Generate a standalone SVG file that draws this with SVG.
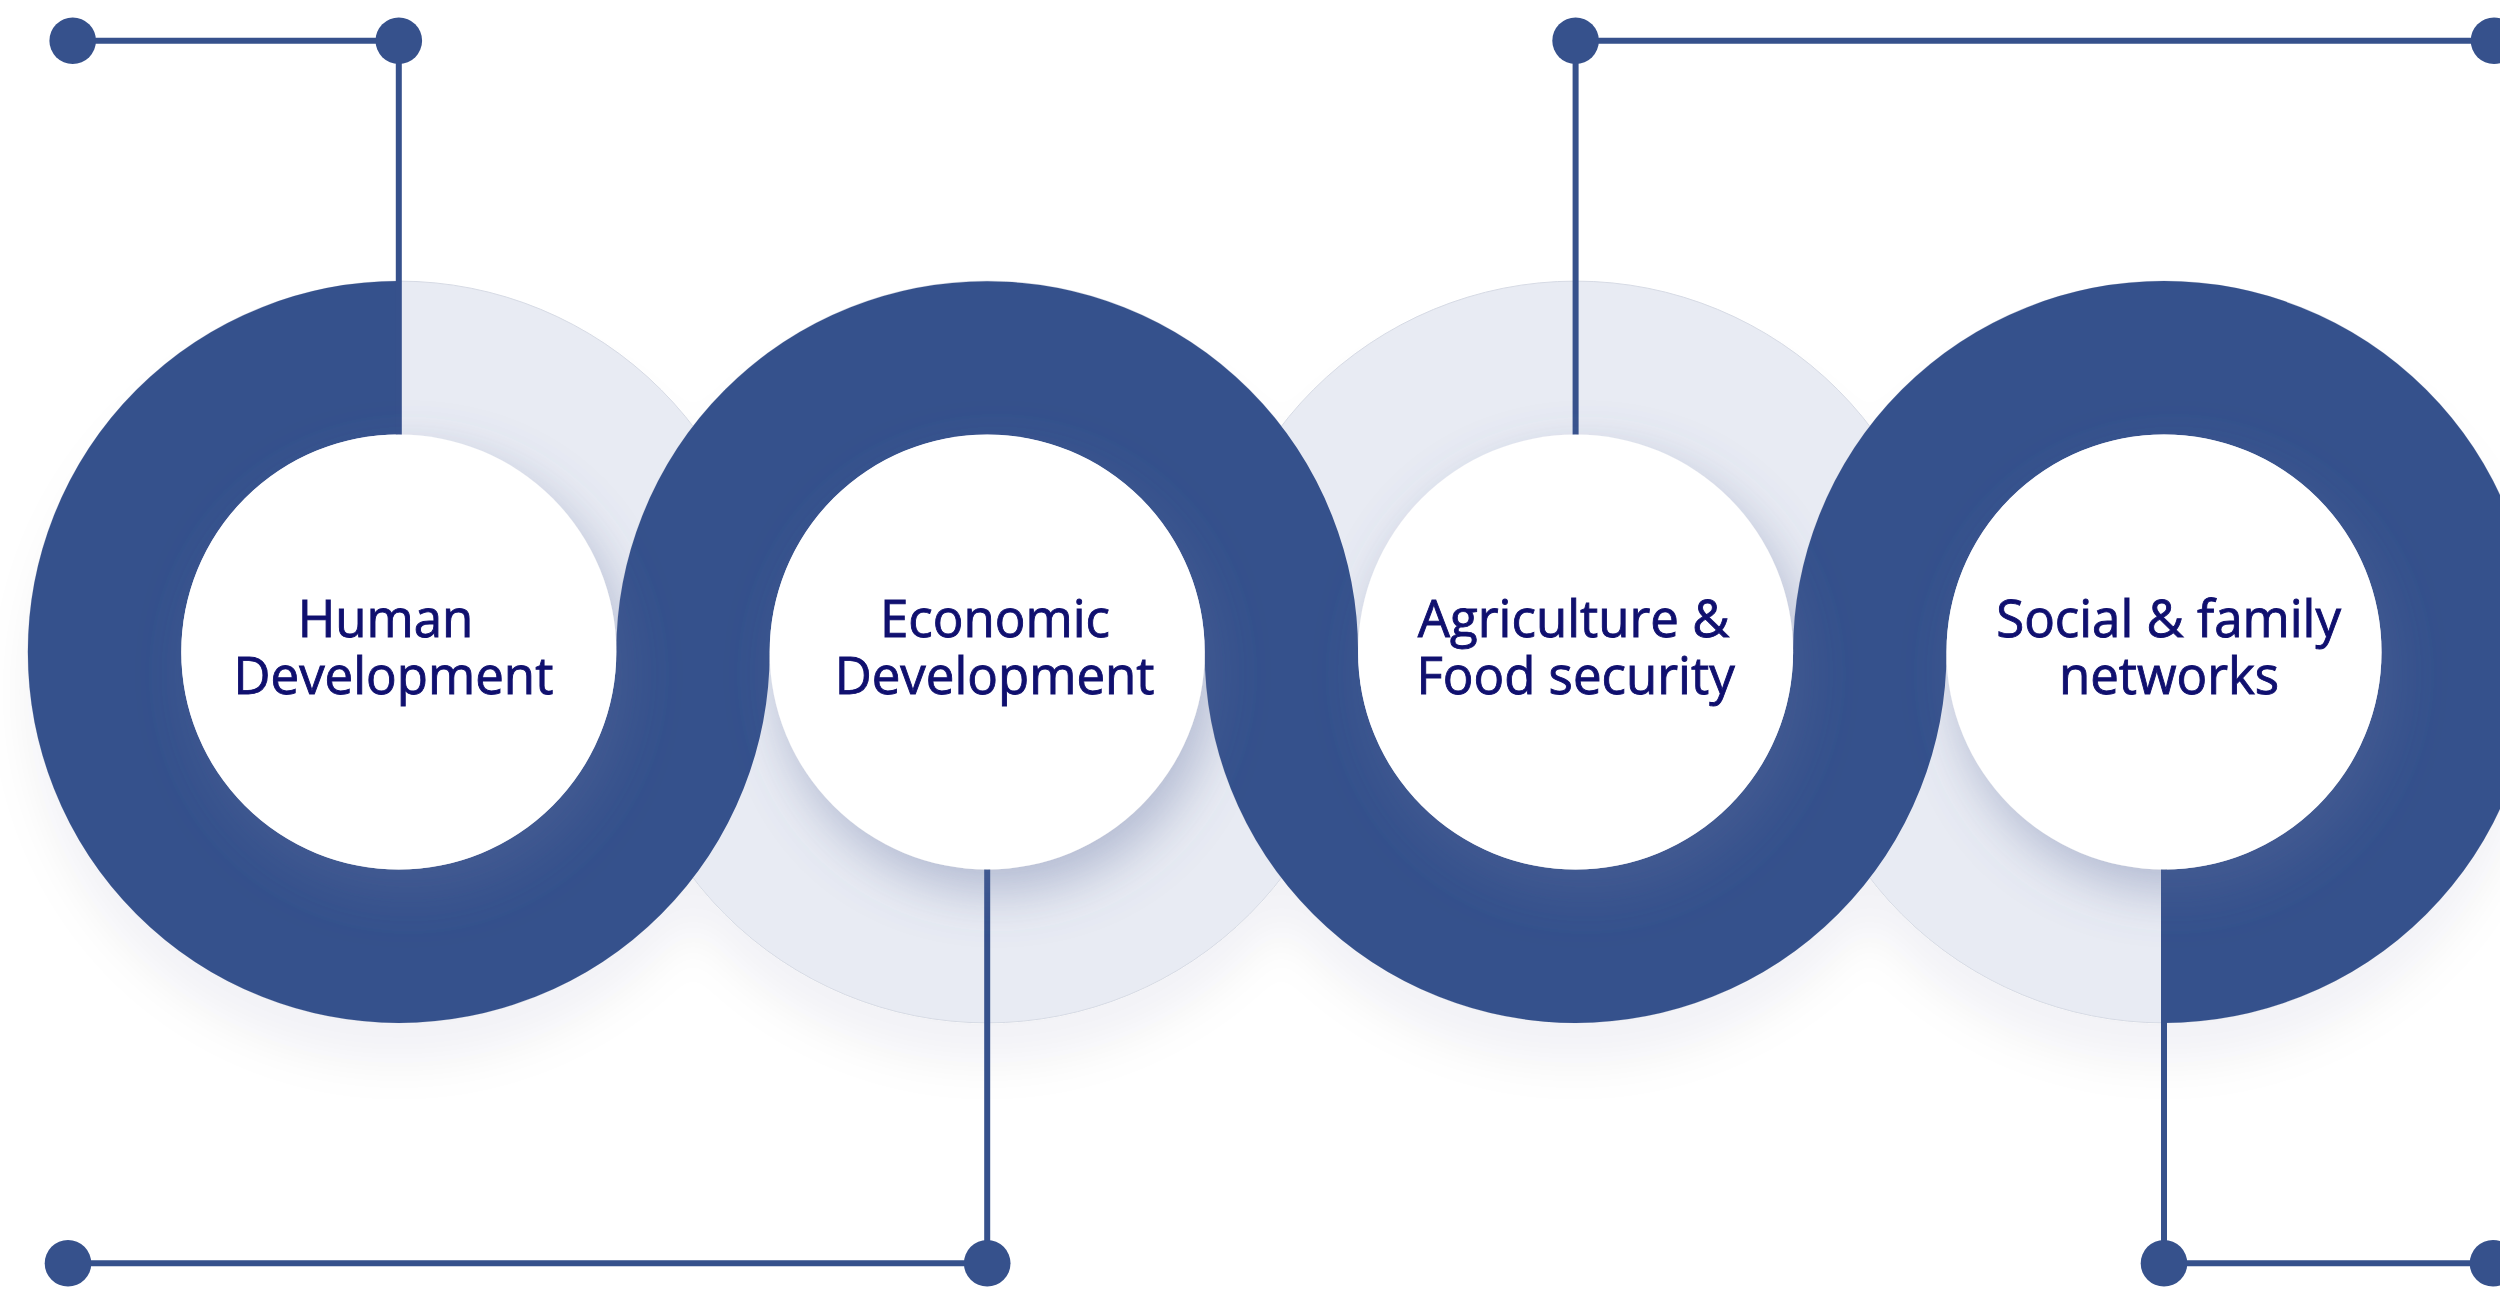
<svg xmlns="http://www.w3.org/2000/svg" width="2500" height="1301" viewBox="0 0 2500 1301">
  <style>
    .light { fill: #e8ebf3; stroke: #d6dae4; stroke-width: 1; }
    .band { fill: none; stroke: #36518c; stroke-width: 153.4; stroke-linecap: butt; }
    .inner { fill: #ffffff; }
    .conn { stroke: #36518c; stroke-width: 6; fill: none; }
    .dot { fill: #36518c; }
    .label { font-family: "Open Sans", "Liberation Sans", sans-serif; font-size: 51px; fill: #10106f; stroke: #10106f; stroke-width: 0.9; text-anchor: middle; }
  </style>
  <defs>
    <filter id="ringShadow" x="-20%" y="-20%" width="140%" height="150%">
      <feDropShadow dx="0" dy="40" stdDeviation="22" flood-color="#1e2a50" flood-opacity="0.05"/>
    </filter>
    <filter id="innerShadow" x="-40%" y="-40%" width="180%" height="180%">
      <feDropShadow dx="10" dy="22" stdDeviation="26" flood-color="#5a6a9c" flood-opacity="0.38"/>
    </filter>
  </defs>
  <rect x="0" y="0" width="2500" height="1301" fill="#ffffff"/>

  <g id="rings" filter="url(#ringShadow)">
    <circle class="light" cx="398.8" cy="652" r="370.9"/>
    <circle class="light" cx="987.2" cy="652" r="370.9"/>
    <circle class="light" cx="1575.6" cy="652" r="370.9"/>
    <circle class="light" cx="2164" cy="652" r="370.9"/>
    <path class="band" d="M 398.8 357.8 A 294.2 294.2 0 1 0 693 652 A 294.2 294.2 0 0 1 1281.4 652 A 294.2 294.2 0 0 0 1869.8 652 A 294.2 294.2 0 1 1 2164 946.2"/>
  </g>

  <g id="connectors">
    <path class="conn" d="M 72.7 40.7 H 398.8 V 436"/>
    <path class="conn" d="M 68 1263.3 H 987.2 V 868"/>
    <path class="conn" d="M 2494 40.7 H 1575.6 V 436"/>
    <path class="conn" d="M 2493 1263.3 H 2164 V 868"/>
    <circle class="dot" cx="72.7" cy="40.7" r="23.3"/>
    <circle class="dot" cx="398.8" cy="40.7" r="23.3"/>
    <circle class="dot" cx="68" cy="1263.3" r="23.3"/>
    <circle class="dot" cx="987.2" cy="1263.3" r="23.3"/>
    <circle class="dot" cx="1575.6" cy="40.7" r="23.3"/>
    <circle class="dot" cx="2494" cy="40.7" r="23.3"/>
    <circle class="dot" cx="2164" cy="1263.3" r="23.3"/>
    <circle class="dot" cx="2493" cy="1263.3" r="23.3"/>
  </g>

  <g id="node-human">
    <circle class="inner" cx="398.8" cy="652" r="217.5" filter="url(#innerShadow)"/>
    <text class="label"><tspan x="385.5" y="637">Human</tspan><tspan x="393.4" y="694">Development</tspan></text>
  </g>
  <g id="node-economic">
    <circle class="inner" cx="987.2" cy="652" r="217.5" filter="url(#innerShadow)"/>
    <text class="label"><tspan x="995" y="637">Economic</tspan><tspan x="994.6" y="694">Development</tspan></text>
  </g>
  <g id="node-agriculture">
    <circle class="inner" cx="1575.6" cy="652" r="217.5" filter="url(#innerShadow)"/>
    <text class="label"><tspan x="1573.6" y="637">Agriculture &amp;</tspan><tspan x="1575.6" y="694">Food security</tspan></text>
  </g>
  <g id="node-social">
    <circle class="inner" cx="2164" cy="652" r="217.5" filter="url(#innerShadow)"/>
    <text class="label"><tspan x="2168.6" y="637">Social &amp; family</tspan><tspan x="2169" y="694">networks</tspan></text>
  </g>
</svg>
